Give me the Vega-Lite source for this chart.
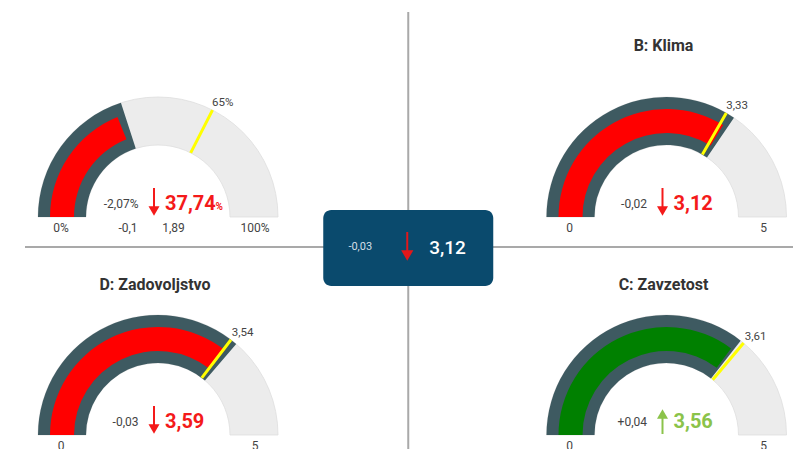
{
  "$schema": "https://vega.github.io/schema/vega-lite/v6.json",
  "width": 793,
  "height": 449,
  "autosize": {"type": "none"},
  "padding": 0,
  "background": "#ffffff",
  "config": {"view": {"stroke": null}, "font": "Roboto", "text": {"font": "Roboto"}},
  "datasets": {
    "gauges": [
      {"id": "A", "col": "L", "row": "T", "title": "", "min": 0, "max": 100, "minLabel": "0%", "maxLabel": "100%", "bar": 37.74, "dark": 40, "target": 65, "targetLabel": "65%", "delta": "-2,07%", "value": "37,74", "unit": "%", "dir": "down", "extra1": "-0,1", "extra2": "1,89"},
      {"id": "B", "col": "R", "row": "T", "title": "B: Klima", "min": 0, "max": 5, "minLabel": "0", "maxLabel": "5", "bar": 3.38, "dark": 3.45, "target": 3.33, "targetLabel": "3,33", "delta": "-0,02", "value": "3,12", "unit": "", "dir": "down"},
      {"id": "D", "col": "L", "row": "B", "title": "D: Zadovoljstvo", "min": 0, "max": 5, "minLabel": "0", "maxLabel": "5", "bar": 3.56, "dark": 3.63, "target": 3.54, "targetLabel": "3,54", "delta": "-0,03", "value": "3,59", "unit": "", "dir": "down"},
      {"id": "C", "col": "R", "row": "B", "title": "C: Zavzetost", "min": 0, "max": 5, "minLabel": "0", "maxLabel": "5", "bar": 3.52, "dark": 3.56, "target": 3.61, "targetLabel": "3,61", "delta": "+0,04", "value": "3,56", "unit": "", "dir": "up"}
    ],
    "center": [{"col": "C", "row": "T", "delta": "-0,03", "value": "3,12", "dir": "down"}],
    "frame": [{"colA": "L", "colB": "R", "rowA": "T", "rowB": "B", "mid": "C"}]
  },
  "layer": [
    {
      "data": {"name": "frame"},
      "mark": {"type": "rule", "color": "#a9a9a9", "strokeWidth": 2, "xOffset": -4, "yOffset": -205, "y2Offset": 14},
      "encoding": {
        "x": {"field": "mid", "type": "nominal", "scale": {"type": "point", "domain": ["L", "C", "R"], "range": [158, 666.5], "padding": 0}, "axis": null},
        "y": {"field": "rowA", "type": "nominal", "scale": {"type": "point", "domain": ["T", "B"], "range": [217, 435], "padding": 0}, "axis": null},
        "y2": {"field": "rowB"}
      }
    },
    {
      "data": {"name": "frame"},
      "mark": {"type": "rule", "color": "#a9a9a9", "strokeWidth": 2, "yOffset": 30, "xOffset": -133, "x2Offset": 127},
      "encoding": {
        "y": {"field": "rowA", "type": "nominal", "scale": {"type": "point", "domain": ["T", "B"], "range": [217, 435], "padding": 0}, "axis": null},
        "x": {"field": "colA", "type": "nominal", "scale": {"type": "point", "domain": ["L", "C", "R"], "range": [158, 666.5], "padding": 0}, "axis": null},
        "x2": {"field": "colB"}
      }
    },
    {
      "data": {"name": "gauges"},
      "transform": [{"filter": "datum.max == 100"}],
      "encoding": {
        "x": {"field": "col", "type": "nominal", "scale": {"type": "point", "domain": ["L", "C", "R"], "range": [158, 666.5], "padding": 0}, "axis": null},
        "y": {"field": "row", "type": "nominal", "scale": {"type": "point", "domain": ["T", "B"], "range": [217, 435], "padding": 0}, "axis": null}
      },
      "layer": [
        {"mark": {"type": "arc", "radius": 120, "radius2": 72, "fill": "#ececec", "stroke": "#dedede", "strokeWidth": 0.8},
         "encoding": {"theta": {"field": "min", "type": "quantitative", "stack": null, "scale": {"domain": [0, 100], "range": [-1.5707963, 1.5707963], "nice": false}}, "theta2": {"field": "max"}}},
        {"mark": {"type": "arc", "radius": 120, "radius2": 72, "fill": "#3e5a61"},
         "encoding": {"theta": {"field": "min", "type": "quantitative", "stack": null, "scale": {"domain": [0, 100], "range": [-1.5707963, 1.5707963], "nice": false}}, "theta2": {"field": "dark"}}},
        {"mark": {"type": "arc", "radius": 108, "radius2": 84},
         "encoding": {"theta": {"field": "min", "type": "quantitative", "stack": null, "scale": {"domain": [0, 100], "range": [-1.5707963, 1.5707963], "nice": false}}, "theta2": {"field": "bar"},
           "fill": {"field": "dir", "type": "nominal", "scale": {"domain": ["down", "up"], "range": ["#ff0000", "#008000"]}, "legend": null}}},
        {"mark": {"type": "arc", "radius": 120, "radius2": 72, "filled": false, "stroke": "#ffff00", "strokeWidth": 3},
         "encoding": {"theta": {"field": "target", "type": "quantitative", "stack": null, "scale": {"domain": [0, 100], "range": [-1.5707963, 1.5707963], "nice": false}}, "theta2": {"field": "target"}}},
        {"mark": {"type": "text", "radius": 128, "align": "left", "baseline": "middle", "dx": -4, "fontSize": 11.5, "color": "#444444"},
         "encoding": {"theta": {"field": "target", "type": "quantitative", "stack": null, "scale": {"domain": [0, 100], "range": [-1.5707963, 1.5707963], "nice": false}}, "text": {"field": "targetLabel"}}},
        {"mark": {"type": "text", "baseline": "middle", "dx": -30, "dy": 11, "fontSize": 12, "color": "#444444"}, "encoding": {"text": {"field": "extra1"}}},
        {"mark": {"type": "text", "baseline": "middle", "dx": 15.5, "dy": 11, "fontSize": 12, "color": "#444444"}, "encoding": {"text": {"field": "extra2"}}}
      ]
    },
    {
      "data": {"name": "gauges"},
      "transform": [{"filter": "datum.max == 5"}],
      "encoding": {
        "x": {"field": "col", "type": "nominal", "scale": {"type": "point", "domain": ["L", "C", "R"], "range": [158, 666.5], "padding": 0}, "axis": null},
        "y": {"field": "row", "type": "nominal", "scale": {"type": "point", "domain": ["T", "B"], "range": [217, 435], "padding": 0}, "axis": null}
      },
      "layer": [
        {"mark": {"type": "arc", "radius": 120, "radius2": 72, "fill": "#ececec", "stroke": "#dedede", "strokeWidth": 0.8},
         "encoding": {"theta": {"field": "min", "type": "quantitative", "stack": null, "scale": {"domain": [0, 5], "range": [-1.5707963, 1.5707963], "nice": false}}, "theta2": {"field": "max"}}},
        {"mark": {"type": "arc", "radius": 120, "radius2": 72, "fill": "#3e5a61"},
         "encoding": {"theta": {"field": "min", "type": "quantitative", "stack": null, "scale": {"domain": [0, 5], "range": [-1.5707963, 1.5707963], "nice": false}}, "theta2": {"field": "dark"}}},
        {"mark": {"type": "arc", "radius": 108, "radius2": 84},
         "encoding": {"theta": {"field": "min", "type": "quantitative", "stack": null, "scale": {"domain": [0, 5], "range": [-1.5707963, 1.5707963], "nice": false}}, "theta2": {"field": "bar"},
           "fill": {"field": "dir", "type": "nominal", "scale": {"domain": ["down", "up"], "range": ["#ff0000", "#008000"]}, "legend": null}}},
        {"mark": {"type": "arc", "radius": 120, "radius2": 72, "filled": false, "stroke": "#ffff00", "strokeWidth": 3},
         "encoding": {"theta": {"field": "target", "type": "quantitative", "stack": null, "scale": {"domain": [0, 5], "range": [-1.5707963, 1.5707963], "nice": false}}, "theta2": {"field": "target"}}},
        {"mark": {"type": "text", "radius": 128, "align": "left", "baseline": "middle", "dx": -4, "fontSize": 11.5, "color": "#444444"},
         "encoding": {"theta": {"field": "target", "type": "quantitative", "stack": null, "scale": {"domain": [0, 5], "range": [-1.5707963, 1.5707963], "nice": false}}, "text": {"field": "targetLabel"}}}
      ]
    },
    {
      "data": {"name": "gauges"},
      "encoding": {
        "x": {"field": "col", "type": "nominal", "scale": {"type": "point", "domain": ["L", "C", "R"], "range": [158, 666.5], "padding": 0}, "axis": null},
        "y": {"field": "row", "type": "nominal", "scale": {"type": "point", "domain": ["T", "B"], "range": [217, 435], "padding": 0}, "axis": null}
      },
      "layer": [
        {"transform": [{"filter": "datum.row == 'T'"}], "mark": {"type": "text", "baseline": "middle", "dx": -3, "dy": -171, "fontSize": 16, "fontWeight": "bold", "color": "#333333"}, "encoding": {"text": {"field": "title"}}},
        {"transform": [{"filter": "datum.row == 'B'"}], "mark": {"type": "text", "baseline": "middle", "dx": -3, "dy": -150, "fontSize": 16, "fontWeight": "bold", "color": "#333333"}, "encoding": {"text": {"field": "title"}}},
        {"mark": {"type": "text", "align": "right", "baseline": "middle", "dx": -19.5, "dy": -13, "fontSize": 12, "color": "#444444"}, "encoding": {"text": {"field": "delta"}}},
        {"mark": {"type": "text", "align": "left", "baseline": "alphabetic", "dx": 7, "dy": -7.5, "fontSize": 20, "fontWeight": "bold"},
         "encoding": {"text": {"field": "value"}, "color": {"field": "dir", "type": "nominal", "scale": {"domain": ["down", "up"], "range": ["#f41a1a", "#8bc34a"]}, "legend": null}}},
        {"mark": {"type": "text", "align": "left", "baseline": "alphabetic", "dx": 57.5, "dy": -7.5, "fontSize": 10, "fontWeight": "bold"},
         "encoding": {"text": {"field": "unit"}, "color": {"field": "dir", "type": "nominal", "scale": {"domain": ["down", "up"], "range": ["#f41a1a", "#8bc34a"]}, "legend": null}}},
        {"mark": {"type": "text", "baseline": "middle", "dx": -97, "dy": 11, "fontSize": 12, "color": "#444444"}, "encoding": {"text": {"field": "minLabel"}}},
        {"mark": {"type": "text", "baseline": "middle", "dx": 97, "dy": 11, "fontSize": 12, "color": "#444444"}, "encoding": {"text": {"field": "maxLabel"}}},
        {"transform": [{"filter": "datum.dir == 'down'"}], "mark": {"type": "rule", "strokeWidth": 2, "xOffset": -4, "yOffset": -29, "y2Offset": -9},
         "encoding": {"y2": {"field": "row"}, "color": {"field": "dir", "type": "nominal", "scale": {"domain": ["down", "up"], "range": ["#f41a1a", "#8bc34a"]}, "legend": null}}},
        {"transform": [{"filter": "datum.dir == 'down'"}], "mark": {"type": "point", "shape": "triangle-down", "filled": true, "opacity": 1, "size": 121, "xOffset": -4, "yOffset": -6},
         "encoding": {"color": {"field": "dir", "type": "nominal", "scale": {"domain": ["down", "up"], "range": ["#f41a1a", "#8bc34a"]}, "legend": null}}},
        {"transform": [{"filter": "datum.dir == 'up'"}], "mark": {"type": "rule", "strokeWidth": 2, "xOffset": -4, "yOffset": -17, "y2Offset": -1},
         "encoding": {"y2": {"field": "row"}, "color": {"field": "dir", "type": "nominal", "scale": {"domain": ["down", "up"], "range": ["#f41a1a", "#8bc34a"]}, "legend": null}}},
        {"transform": [{"filter": "datum.dir == 'up'"}], "mark": {"type": "point", "shape": "triangle-up", "filled": true, "opacity": 1, "size": 121, "xOffset": -4, "yOffset": -21},
         "encoding": {"color": {"field": "dir", "type": "nominal", "scale": {"domain": ["down", "up"], "range": ["#f41a1a", "#8bc34a"]}, "legend": null}}}
      ]
    },
    {
      "data": {"name": "center"},
      "encoding": {
        "x": {"field": "col", "type": "nominal", "scale": {"type": "point", "domain": ["L", "C", "R"], "range": [158, 666.5], "padding": 0}, "axis": null},
        "y": {"field": "row", "type": "nominal", "scale": {"type": "point", "domain": ["T", "B"], "range": [217, 435], "padding": 0}, "axis": null}
      },
      "layer": [
        {"mark": {"type": "rect", "width": 170, "height": 76, "cornerRadius": 8, "color": "#0a4a6d", "xOffset": -4, "yOffset": 31}},
        {"mark": {"type": "text", "baseline": "middle", "dx": -52, "dy": 30, "fontSize": 11, "color": "#d3dfe6"}, "encoding": {"text": {"field": "delta"}}},
        {"mark": {"type": "text", "align": "left", "baseline": "alphabetic", "dx": 17, "dy": 37, "fontSize": 19, "fontWeight": 500, "color": "#ffffff"}, "encoding": {"text": {"field": "value"}}},
        {"mark": {"type": "rule", "color": "#e3171a", "strokeWidth": 2, "xOffset": -5, "yOffset": 15, "y2Offset": 34}, "encoding": {"y2": {"field": "row"}}},
        {"mark": {"type": "point", "shape": "triangle-down", "filled": true, "opacity": 1, "size": 150, "color": "#e3171a", "xOffset": -5, "yOffset": 38.5}}
      ]
    }
  ],
  "resolve": {"scale": {"theta": "independent"}}
}
